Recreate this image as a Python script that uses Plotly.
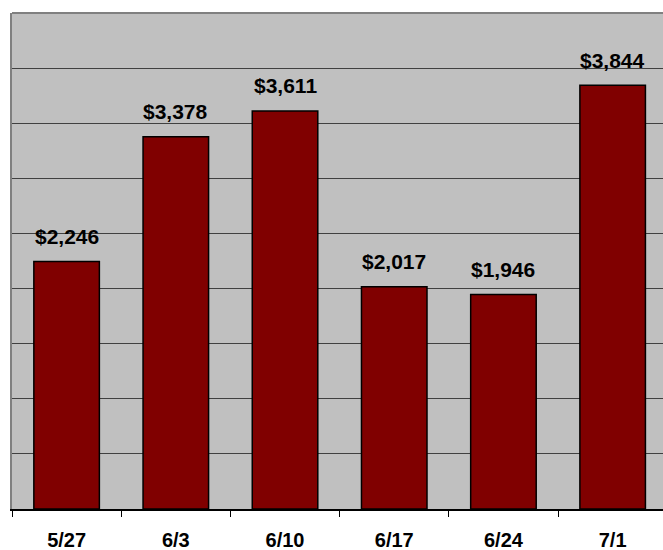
import plotly.graph_objects as go

categories = ["5/27", "6/3", "6/10", "6/17", "6/24", "7/1"]
values = [2246, 3378, 3611, 2017, 1946, 3844]
labels = ["$2,246", "$3,378", "$3,611", "$2,017", "$1,946", "$3,844"]

FONT = "Liberation Sans, Arial, sans-serif"

fig = go.Figure()
fig.add_trace(go.Bar(
    x=categories, y=values,
    marker=dict(color="#800000", line=dict(color="#000000", width=1.5)),
    hoverinfo="skip",
))

for c, v, t in zip(categories, values, labels):
    fig.add_annotation(x=c, y=v, text="<b>%s</b>" % t, showarrow=False,
                       yanchor="middle", yshift=25,
                       font=dict(family=FONT, size=21, color="#000000"))

fig.add_shape(type="line", xref="paper", yref="paper", x0=0, x1=1, y0=1, y1=1,
              line=dict(color="#808080", width=2), layer="above")

fig.update_layout(
    width=663, height=550,
    margin=dict(l=12, r=0, t=13, b=41),
    paper_bgcolor="#FFFFFF", plot_bgcolor="#C0C0C0",
    bargap=0.4, showlegend=False,
    font=dict(family=FONT, size=20, color="#000000"),
)
fig.update_xaxes(
    type="category", range=[-0.5, 5.461],
    tickson="boundaries", ticks="outside", ticklen=6, tickwidth=1, tickcolor="#000000",
    showline=True, linecolor="#000000", linewidth=1.5,
    showgrid=False,
    tickfont=dict(family=FONT, size=20, color="#000000"),
    tickvals=categories, ticktext=["<b>%s</b>" % c for c in categories],
    ticklabelstandoff=12,
)
fig.update_yaxes(
    range=[0, 4500], dtick=500, showticklabels=False,
    showgrid=True, gridcolor="#404040", gridwidth=1,
    zeroline=False,
    showline=True, linecolor="#808080", linewidth=2,
    ticks="",
)

fig.write_html("out.html",
               config={"displayModeBar": False, "staticPlot": True},
               post_script="document.body.style.margin='0';document.body.style.overflow='hidden';")
